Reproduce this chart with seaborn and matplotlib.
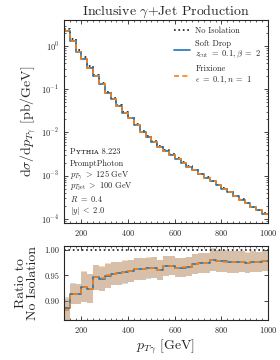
import numpy as np
import pandas as pd
import matplotlib
matplotlib.use("Agg")
import matplotlib.pyplot as plt
import seaborn as sns
from matplotlib.ticker import MultipleLocator, LogLocator, NullFormatter

sns.set_theme(style="ticks")
plt.rcParams['font.family'] = ['cmr10', 'DejaVu Serif']
plt.rcParams['mathtext.fontset'] = 'cm'
plt.rcParams['axes.formatter.use_mathtext'] = True
plt.rcParams['axes.unicode_minus'] = False

# bin edges in pT_gamma [GeV]
bin_lo = [125, 150, 175, 200, 225, 250, 275, 300, 325, 350, 375, 400, 425, 450,
          475, 500, 525, 550, 575, 600, 625, 650, 675, 700, 725, 750, 775, 800,
          825, 850, 875, 900, 925, 950, 975]
bin_hi_last = 1000

# dsigma/dpT without isolation [pb/GeV]
no_iso = [2.5, 1.45, 0.82, 0.55, 0.34, 0.21, 0.138, 0.088, 0.063, 0.044, 0.030,
          0.022, 0.0158, 0.0105, 8.04e-3, 6.24e-3, 4.90e-3, 3.89e-3, 3.13e-3,
          2.51e-3, 2.04e-3, 1.66e-3, 1.355e-3, 1.114e-3, 9.16e-4, 7.48e-4,
          6.17e-4, 5.07e-4, 4.17e-4, 3.43e-4, 2.82e-4, 2.32e-4, 1.905e-4,
          1.585e-4, 1.32e-4]

# ratio to no isolation
ratio_sd = [0.885, 0.914, 0.913, 0.927, 0.924, 0.946, 0.943, 0.949, 0.953, 0.954,
            0.956, 0.958, 0.962, 0.963, 0.964, 0.965, 0.961, 0.969, 0.969, 0.965,
            0.965, 0.967, 0.972, 0.974, 0.974, 0.981, 0.978, 0.978, 0.976, 0.976,
            0.977, 0.974, 0.977, 0.976, 0.979]
ratio_fx = [0.881, 0.913, 0.913, 0.928, 0.924, 0.946, 0.944, 0.950, 0.953, 0.954,
            0.957, 0.958, 0.962, 0.963, 0.965, 0.965, 0.961, 0.968, 0.969, 0.965,
            0.966, 0.967, 0.972, 0.974, 0.974, 0.980, 0.978, 0.977, 0.976, 0.976,
            0.977, 0.975, 0.977, 0.976, 0.978]
ratio_err = [0.022, 0.020, 0.020, 0.030, 0.028, 0.025, 0.024, 0.024, 0.023, 0.023,
             0.023, 0.022, 0.022, 0.022, 0.021, 0.021, 0.020, 0.020, 0.019, 0.019,
             0.019, 0.019, 0.020, 0.020, 0.020, 0.022, 0.021, 0.021, 0.021, 0.021,
             0.020, 0.020, 0.021, 0.020, 0.020]

edges = np.array(bin_lo + [bin_hi_last], dtype=float)


def ext(v):
    v = np.asarray(v, dtype=float)
    return np.append(v, v[-1])


noiso = np.array(no_iso)
sd = noiso * np.array(ratio_sd)
fx = noiso * np.array(ratio_fx)
err = np.array(ratio_err)

df = pd.DataFrame({
    'pt': edges,
    'noiso': ext(noiso), 'sd': ext(sd), 'fx': ext(fx),
    'r_sd': ext(ratio_sd), 'r_fx': ext(ratio_fx), 'one': 1.0,
})

C0 = '#1f77b4'
C1 = '#ff7f0e'

fig = plt.figure(figsize=(2.8, 3.6), dpi=100)
ax = fig.add_axes([0.2286, 0.381, 0.7284, 0.563])
axr = fig.add_axes([0.2286, 0.111, 0.7284, 0.206])

# main panel
ax.fill_between(edges, ext(noiso * (np.array(ratio_sd) - err)), ext(noiso * (np.array(ratio_sd) + err)),
                step='post', color=C0, alpha=0.25, lw=0)
ax.fill_between(edges, ext(noiso * (np.array(ratio_fx) - err)), ext(noiso * (np.array(ratio_fx) + err)),
                step='post', color=C1, alpha=0.3, lw=0)
sns.lineplot(data=df, x='pt', y='noiso', ax=ax, drawstyle='steps-post', color='k',
             ls=':', lw=1.2, label='No Isolation')
sns.lineplot(data=df, x='pt', y='sd', ax=ax, drawstyle='steps-post', color=C0,
             lw=1.2, label='Soft Drop\n$z_{\\rm cut}\\ =\\ 0.1, \\beta\\ =\\ 2$')
sns.lineplot(data=df, x='pt', y='fx', ax=ax, drawstyle='steps-post', color=C1,
             ls=(0, (3, 2)), lw=1.2, label='Frixione\n$\\epsilon\\ =\\ 0.1, n\\ =\\ 1$')
ax.set_yscale('log')
ax.set_xlim(125, 1000)
ax.set_ylim(8e-5, 4.0)
ax.set_xlabel('')
ax.set_ylabel(r'$\mathrm{d}\sigma/\mathrm{d}p_{T\gamma}$ [pb/GeV]', fontsize=10, labelpad=2)
ax.set_title(r'Inclusive $\gamma$+Jet Production', fontsize=10, pad=3)
ax.yaxis.set_major_locator(LogLocator(base=10, numticks=10))
ax.yaxis.set_minor_locator(LogLocator(base=10, subs=np.arange(2, 10), numticks=20))
ax.yaxis.set_minor_formatter(NullFormatter())
leg = ax.legend(loc='upper right', frameon=False, fontsize=6, handlelength=2.0,
                labelspacing=0.5, borderaxespad=0.4, handletextpad=0.6)

info = ['Pʏᴛʜɪᴀ 8.223', 'PromptPhoton', r'$p_{T\gamma}\ >\ 125$ GeV',
        r'$p_{T\mathrm{jet}}\ >\ 100$ GeV', r'$R\ =\ 0.4$', r'$|y|\ <\ 2.0$']
for i, s in enumerate(info):
    ax.text(0.03, 0.35 - i * 0.058, s, transform=ax.transAxes, fontsize=6,
            va='center', ha='left')

# ratio panel
axr.fill_between(edges, ext(np.array(ratio_sd) - err), ext(np.array(ratio_sd) + err),
                 step='post', color=C0, alpha=0.25, lw=0)
axr.fill_between(edges, ext(np.array(ratio_fx) - err), ext(np.array(ratio_fx) + err),
                 step='post', color=C1, alpha=0.3, lw=0)
sns.lineplot(data=df, x='pt', y='one', ax=axr, color='k', ls=':', lw=1.2)
sns.lineplot(data=df, x='pt', y='r_sd', ax=axr, drawstyle='steps-post', color=C0, lw=1.2)
sns.lineplot(data=df, x='pt', y='r_fx', ax=axr, drawstyle='steps-post', color=C1,
             ls=(0, (3, 2)), lw=1.2)
axr.set_xlim(125, 1000)
axr.set_ylim(0.862, 1.008)
axr.yaxis.set_major_locator(MultipleLocator(0.05))
axr.yaxis.set_major_formatter(matplotlib.ticker.FormatStrFormatter('%.2f'))
axr.set_xlabel(r'$p_{T\gamma}$ [GeV]', fontsize=10, labelpad=2)
axr.set_ylabel('Ratio to\nNo Isolation', fontsize=10, labelpad=4, linespacing=0.95)

for a in (ax, axr):
    a.xaxis.set_major_locator(MultipleLocator(200))
    a.xaxis.set_minor_locator(MultipleLocator(25))
    a.tick_params(which='both', direction='in', top=True, right=True, labelsize=6)
    a.tick_params(which='major', length=3, width=0.6)
    a.tick_params(which='minor', length=1.5, width=0.5)
    for sp in a.spines.values():
        sp.set_linewidth(0.8)
axr.yaxis.set_minor_locator(MultipleLocator(0.01))
axr.tick_params(which='minor', axis='y', length=0)

fig.savefig('out.png', dpi=100)
